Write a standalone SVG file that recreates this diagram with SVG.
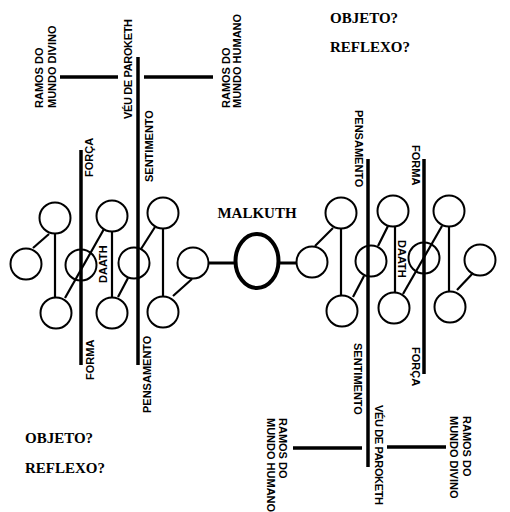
<svg xmlns="http://www.w3.org/2000/svg" width="510" height="512" viewBox="0 0 510 512">
<style>
.c{fill:none;stroke:#000;stroke-width:2}
.k{stroke:#000;stroke-width:2.2;fill:none}
.b{stroke:#000;stroke-width:3.5;fill:none}
.t{font-family:"Liberation Sans",Arial,sans-serif;font-weight:bold;font-size:11px;fill:#000}
.s{font-family:"Liberation Serif","Times New Roman",serif;font-weight:bold;font-size:15px;fill:#000}
</style>
<rect width="510" height="512" fill="#fff"/>
<g id="connectors">
<!-- left tree -->
<line class="k" x1="33" y1="248" x2="49" y2="234"/>
<line class="k" x1="55" y1="234" x2="55" y2="297"/>
<line class="k" x1="65" y1="298" x2="104" y2="229"/>
<line class="k" x1="112" y1="232" x2="112" y2="297"/>
<line class="k" x1="118" y1="297" x2="128" y2="278"/>
<line class="k" x1="141" y1="249" x2="155" y2="227"/>
<line class="k" x1="163" y1="229" x2="163" y2="296"/>
<line class="k" x1="173" y1="296" x2="192" y2="279"/>
<line class="b" style="stroke-width:3" x1="209" y1="263" x2="236" y2="263"/>
<line class="b" style="stroke-width:3" x1="279" y1="263" x2="297" y2="263"/>
<!-- right tree -->
<line class="k" x1="315" y1="246" x2="333" y2="228"/>
<line class="k" x1="341" y1="229" x2="341" y2="295"/>
<line class="k" x1="353" y1="297" x2="364" y2="276"/>
<line class="k" x1="378" y1="246" x2="388" y2="226"/>
<line class="k" x1="395" y1="227" x2="395" y2="292"/>
<line class="k" x1="403" y1="294" x2="442" y2="226"/>
<line class="k" x1="449" y1="227" x2="449" y2="291"/>
<line class="k" x1="457" y1="290" x2="473" y2="273"/>
<!-- veil / pillar lines -->
<line class="b" x1="81" y1="150" x2="81" y2="365"/>
<line class="b" x1="138" y1="57" x2="138" y2="365"/>
<line class="b" x1="60" y1="77" x2="118" y2="77"/>
<line class="b" x1="144" y1="77" x2="213" y2="77"/>
<line class="b" x1="368" y1="159" x2="368" y2="467"/>
<line class="b" x1="424" y1="159" x2="424" y2="374"/>
<line class="b" x1="293" y1="448" x2="362" y2="448"/>
<line class="b" x1="387" y1="447" x2="446" y2="447"/>
</g>
<g id="left-tree">
<circle id="L1" class="c" cx="55" cy="218" r="15.5"/>
<circle id="L2" class="c" cx="26" cy="264" r="15.5"/>
<circle id="L3" class="c" cx="56" cy="313" r="15.5"/>
<circle id="L4" class="c" cx="81" cy="265" r="15.5"/>
<circle id="L5" class="c" cx="112" cy="216" r="15.5"/>
<circle id="L6" class="c" cx="112" cy="313" r="15.5"/>
<circle id="L7" class="c" cx="134" cy="263" r="15.5"/>
<circle id="L8" class="c" cx="163" cy="213" r="15.5"/>
<circle id="L9" class="c" cx="163" cy="312" r="15.5"/>
<circle id="L10" class="c" cx="193" cy="263" r="15.5"/>
</g>
<g id="malkuth">
<ellipse cx="257" cy="261" rx="21.5" ry="27" fill="none" stroke="#000" stroke-width="4"/>
<text class="s" x="257" y="218" text-anchor="middle">MALKUTH</text>
</g>
<g id="right-tree">
<circle id="R1" class="c" cx="341" cy="213" r="15.5"/>
<circle id="R2" class="c" cx="312" cy="262" r="15.5"/>
<circle id="R3" class="c" cx="342" cy="311" r="15.5"/>
<circle id="R4" class="c" cx="371" cy="261" r="15.5"/>
<circle id="R5" class="c" cx="393" cy="211" r="15.5"/>
<circle id="R6" class="c" cx="394" cy="308" r="15.5"/>
<circle id="R7" class="c" cx="424" cy="258" r="15.5"/>
<circle id="R8" class="c" cx="449" cy="211" r="15.5"/>
<circle id="R9" class="c" cx="450" cy="307" r="15.5"/>
<circle id="R10" class="c" cx="480" cy="260" r="15.5"/>
</g>
<g id="left-labels">
<text class="t" transform="translate(43,108) rotate(-90)">RAMOS DO</text>
<text class="t" transform="translate(56,108) rotate(-90)">MUNDO DIVINO</text>
<text class="t" transform="translate(132,119) rotate(-90)" textLength="100">VÉU DE PAROKETH</text>
<text class="t" transform="translate(230,108) rotate(-90)">RAMOS DO</text>
<text class="t" transform="translate(241,108) rotate(-90)">MUNDO HUMANO</text>
<text class="t" transform="translate(153,182) rotate(-90)">SENTIMENTO</text>
<text class="t" transform="translate(93,177) rotate(-90)">FORÇA</text>
<text class="t" transform="translate(107,283) rotate(-90)">DAATH</text>
<text class="t" transform="translate(94,380) rotate(-90)">FORMA</text>
<text class="t" transform="translate(151,413) rotate(-90)">PENSAMENTO</text>
</g>
<g id="right-labels">
<text class="t" transform="translate(355,110) rotate(90)">PENSAMENTO</text>
<text class="t" transform="translate(412,145) rotate(90)">FORMA</text>
<text class="t" transform="translate(398,240) rotate(90)">DAATH</text>
<text class="t" transform="translate(354,343) rotate(90)">SENTIMENTO</text>
<text class="t" transform="translate(412,347) rotate(90)">FORÇA</text>
<text class="t" transform="translate(375,405) rotate(90)" textLength="100">VÉU DE PAROKETH</text>
<text class="t" transform="translate(279,418) rotate(90)">RAMOS DO</text>
<text class="t" transform="translate(267,418) rotate(90)">MUNDO HUMANO</text>
<text class="t" transform="translate(463,416) rotate(90)">RAMOS DO</text>
<text class="t" transform="translate(450,416) rotate(90)">MUNDO DIVINO</text>
</g>
<g id="questions">
<text class="s" x="330" y="23">OBJETO?</text>
<text class="s" x="330" y="52">REFLEXO?</text>
<text class="s" x="25" y="443">OBJETO?</text>
<text class="s" x="25" y="473">REFLEXO?</text>
</g>
</svg>
